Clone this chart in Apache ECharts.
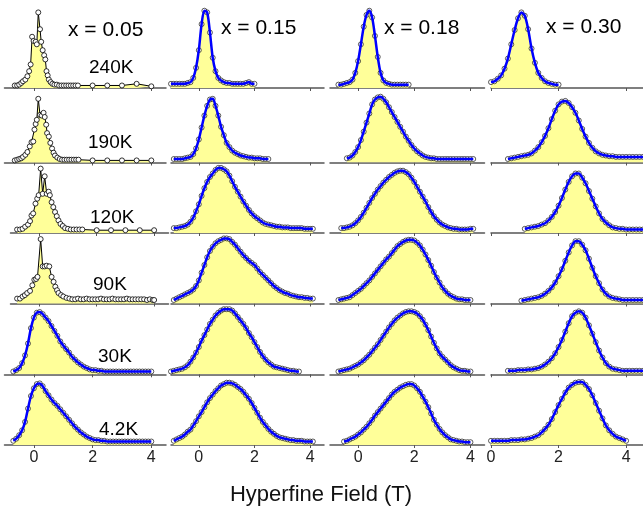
<!DOCTYPE html>
<html lang="en">
<head>
<meta charset="UTF-8">
<title>Hyperfine field distributions</title>
<script src="https://cdn.jsdelivr.net/npm/echarts@6/dist/echarts.min.js"></script>
<style>
    html, body { margin: 0; padding: 0; background: #fff; }
    #chart { width: 643px; height: 509px; }
</style>
</head>
<body>
<div id="chart"></div>
<script>
    var temps = ['240K', '190K', '120K', '90K', '30K', '4.2K'];
    var concs = ['x = 0.05', 'x = 0.15', 'x = 0.18', 'x = 0.30'];
    var fieldTicks = [0, 2, 4];

    // x = 0.05, 240K..90K: measured points only, [field (T), intensity]
    var raw05_240 = [[-0.65,0.03],[-0.57,0.03],[-0.5,0.04],[-0.43,0.06],[-0.37,0.08],[-0.29,0.1],[-0.22,0.14],[-0.16,0.2],[-0.11,0.28],[-0.06,0.61],[-0.01,0.56],[0.06,0.55],[0.1,0.52],[0.15,0.9],[0.21,0.7],[0.25,0.55],[0.3,0.45],[0.35,0.39],[0.39,0.34],[0.43,0.2],[0.47,0.15],[0.51,0.1],[0.57,0.07],[0.63,0.05],[0.7,0.04],[0.78,0.04],[0.86,0.03],[0.94,0.03],[1.02,0.03],[1.1,0.03],[1.18,0.03],[1.26,0.03],[1.34,0.03],[1.42,0.03],[1.5,0.03],[2.0,0.03],[2.5,0.03],[3.0,0.03],[3.5,0.05],[4.0,0.02]];
    var raw05_190 = [[-0.65,0.03],[-0.57,0.04],[-0.5,0.05],[-0.43,0.06],[-0.37,0.08],[-0.29,0.11],[-0.22,0.15],[-0.14,0.23],[-0.08,0.29],[-0.02,0.3],[0.02,0.47],[0.06,0.55],[0.1,0.61],[0.15,0.91],[0.21,0.68],[0.27,0.67],[0.33,0.71],[0.37,0.65],[0.42,0.54],[0.45,0.42],[0.51,0.37],[0.56,0.28],[0.62,0.2],[0.67,0.14],[0.72,0.1],[0.8,0.07],[0.88,0.05],[0.96,0.04],[1.04,0.04],[1.12,0.04],[1.2,0.04],[1.28,0.04],[1.36,0.04],[1.44,0.04],[1.52,0.04],[2.0,0.03],[2.5,0.03],[3.0,0.03],[3.5,0.03],[4.0,0.03]];
    var raw05_120 = [[-0.77,0.05],[-0.67,0.05],[-0.58,0.06],[-0.49,0.09],[-0.39,0.12],[-0.32,0.17],[-0.27,0.25],[-0.21,0.28],[-0.13,0.42],[-0.07,0.49],[-0.02,0.54],[0.05,0.92],[0.12,0.56],[0.19,0.81],[0.26,0.56],[0.33,0.59],[0.37,0.54],[0.43,0.44],[0.49,0.37],[0.55,0.3],[0.61,0.24],[0.67,0.18],[0.74,0.13],[0.82,0.1],[0.9,0.07],[1.0,0.06],[1.1,0.05],[1.2,0.05],[1.3,0.05],[1.4,0.05],[1.5,0.05],[2.0,0.04],[2.5,0.04],[3.0,0.04],[3.5,0.04],[4.0,0.04]];
    var raw05_90 = [[-0.77,0.07],[-0.67,0.07],[-0.58,0.1],[-0.5,0.12],[-0.42,0.15],[-0.32,0.18],[-0.24,0.26],[-0.17,0.34],[-0.11,0.35],[-0.06,0.38],[0.05,0.92],[0.12,0.53],[0.19,0.53],[0.26,0.54],[0.35,0.53],[0.43,0.38],[0.5,0.31],[0.56,0.24],[0.62,0.19],[0.67,0.15],[0.76,0.12],[0.84,0.1],[0.95,0.08],[1.05,0.07],[1.15,0.06],[1.25,0.06],[1.35,0.07],[1.45,0.06],[1.55,0.06],[1.65,0.07],[1.75,0.06],[1.85,0.06],[1.95,0.06],[2.05,0.06],[2.15,0.07],[2.25,0.06],[2.35,0.06],[2.45,0.06],[2.55,0.07],[2.65,0.06],[2.75,0.06],[2.85,0.06],[2.95,0.06],[3.05,0.07],[3.15,0.06],[3.25,0.06],[3.35,0.06],[3.45,0.06],[3.55,0.06],[3.65,0.06],[3.75,0.05],[3.85,0.06],[3.95,0.05],[4.0,0.05]];

    // fitted spectra, read on a 0.1 T grid starting at startXX[row]
    var fit05_30 = [.04,.06,.09,.16,.27,.44,.66,.81,.88,.89,.86,.81,.76,.69,.62,.55,.47,.41,.36,.31,.25,.21,.17,.14,.11,.09,.07,.06,.06,.05,.05,.04,.04,.04,.04,.04,.04,.04,.04,.04,.04,.04,.04,.04,.04,.04,.04,.04];
    var fit05_4 = [.06,.09,.14,.21,.33,.52,.7,.81,.87,.88,.84,.77,.71,.65,.6,.56,.51,.46,.41,.36,.31,.26,.22,.18,.15,.12,.1,.08,.07,.07,.06,.06,.05,.05,.05,.05,.05,.05,.05,.05,.05,.05,.05,.05,.05,.05,.05,.05];

    var fit15_240 = [.05,.05,.05,.05,.05,.05,.06,.07,.12,.24,.45,.76,.92,.9,.66,.36,.2,.12,.09,.07,.06,.06,.05,.05,.05,.05,.05,.06,.07,.05,.05];
    var fit15_190 = [.05,.05,.05,.05,.06,.07,.08,.12,.2,.33,.5,.67,.81,.9,.91,.81,.67,.51,.39,.28,.22,.17,.14,.12,.1,.09,.08,.07,.07,.06,.06,.06,.05,.05,.05];
    var fit15_120 = [.07,.07,.08,.09,.1,.12,.16,.22,.31,.41,.53,.64,.73,.8,.85,.9,.93,.93,.91,.88,.82,.74,.66,.59,.52,.45,.39,.33,.28,.24,.21,.18,.15,.13,.12,.11,.1,.09,.09,.08,.08,.08,.07,.07,.07,.07,.07,.06,.06,.06,.06];
    var fit15_90 = [.05,.07,.09,.11,.13,.15,.17,.2,.25,.33,.44,.55,.66,.75,.81,.86,.89,.91,.93,.93,.92,.88,.84,.79,.74,.69,.65,.61,.58,.55,.5,.45,.41,.37,.33,.29,.25,.22,.19,.17,.15,.14,.12,.11,.1,.09,.09,.08,.08,.07,.07];
    var fit15_30 = [.04,.05,.06,.07,.08,.1,.13,.18,.24,.31,.39,.48,.56,.64,.72,.78,.84,.88,.91,.93,.93,.93,.91,.87,.82,.77,.72,.66,.59,.53,.46,.39,.32,.26,.21,.17,.14,.11,.1,.09,.08,.07,.06,.05,.05,.04,.04];
    var fit15_4 = [.06,.08,.1,.12,.15,.19,.22,.28,.34,.41,.47,.54,.61,.67,.72,.77,.81,.85,.87,.89,.89,.88,.86,.83,.8,.76,.71,.66,.6,.53,.46,.39,.33,.28,.23,.19,.16,.13,.11,.1,.09,.08,.07,.07,.06,.06,.06,.05,.05,.05,.05];

    var fit18_240 = [.04,.04,.05,.06,.07,.1,.18,.32,.52,.73,.87,.92,.84,.62,.37,.18,.09,.06,.05,.04,.04,.04,.04,.04,.04,.04];
    var fit18_190 = [.06,.07,.1,.15,.22,.32,.44,.57,.7,.83,.9,.93,.94,.91,.86,.79,.72,.65,.58,.51,.44,.37,.31,.25,.2,.16,.13,.1,.08,.07,.06,.06,.05,.05,.05,.05,.05,.05,.05,.05,.05,.05,.05,.05,.05,.05];
    var fit18_120 = [.07,.07,.08,.09,.11,.14,.18,.23,.29,.36,.43,.5,.56,.62,.67,.72,.76,.8,.83,.86,.88,.89,.89,.87,.84,.79,.73,.66,.59,.52,.45,.37,.3,.24,.19,.15,.12,.1,.08,.07,.06,.06,.05,.05,.05,.05,.06,.06];
    var fit18_90 = [.05,.06,.07,.08,.09,.12,.15,.18,.21,.25,.29,.33,.38,.43,.48,.53,.58,.63,.67,.72,.77,.82,.85,.88,.9,.91,.91,.9,.87,.83,.77,.7,.62,.54,.45,.37,.3,.23,.18,.14,.11,.09,.07,.06,.06,.05,.05,.05];
    var fit18_30 = [.04,.05,.06,.07,.08,.1,.12,.14,.17,.2,.24,.28,.33,.38,.43,.49,.55,.61,.67,.72,.77,.81,.84,.87,.89,.9,.9,.89,.87,.83,.78,.71,.63,.54,.45,.37,.3,.25,.21,.17,.13,.1,.08,.06,.05,.05,.04,.04];
    var fit18_4 = [.05,.06,.08,.1,.12,.15,.18,.22,.26,.31,.36,.42,.47,.52,.57,.62,.67,.72,.76,.79,.82,.84,.86,.87,.87,.85,.81,.76,.69,.62,.54,.45,.36,.29,.23,.18,.14,.11,.08,.07,.06,.05,.05,.04,.04,.04];

    var fit30_240 = [.07,.08,.11,.15,.23,.35,.52,.69,.83,.9,.86,.7,.47,.3,.18,.12,.08,.06,.05,.04,.04];
    var fit30_190 = [.05,.06,.07,.08,.09,.1,.11,.13,.17,.22,.29,.38,.49,.62,.74,.83,.87,.88,.85,.79,.71,.6,.48,.37,.28,.21,.16,.13,.11,.1,.09,.09,.08,.08,.08,.08,.08,.08,.08,.08,.08];
    var fit30_120 = [.06,.07,.08,.09,.1,.12,.14,.18,.23,.3,.39,.5,.62,.73,.81,.85,.85,.79,.71,.6,.49,.38,.28,.2,.15,.11,.08,.07,.06,.06,.05,.05,.05,.05,.05,.05];
    var fit30_90 = [.04,.05,.06,.07,.08,.09,.11,.14,.18,.23,.3,.39,.49,.61,.73,.83,.89,.89,.84,.76,.64,.51,.39,.29,.2,.14,.1,.08,.07,.06,.05,.05,.05,.05,.05,.05,.05];
    var fit30_30 = [.05,.05,.05,.06,.06,.06,.07,.07,.08,.09,.11,.14,.18,.23,.3,.39,.49,.61,.73,.83,.88,.9,.88,.81,.7,.58,.46,.34,.24,.16,.11,.08,.07,.06,.05,.05,.05,.05,.05,.05,.05];
    var fit30_4 = [.06,.06,.06,.06,.06,.06,.07,.07,.07,.08,.08,.09,.1,.12,.14,.18,.23,.29,.37,.47,.57,.66,.75,.82,.86,.89,.9,.9,.86,.8,.71,.6,.49,.38,.28,.21,.16,.12,.1,.08,.06];

    // first field value (T) of each fitted row, 240K..4.2K
    var start05 = [null, null, null, null, -0.7, -0.7];
    var start15 = [-1.0, -0.9, -0.9, -0.9, -1.0, -0.9];
    var start18 = [-0.7, -0.4, -0.6, -0.7, -0.7, -0.5];
    var start30 = [0.0, 0.5, 1.0, 0.9, 0.5, 0.0];

    var raw05 = [raw05_240, raw05_190, raw05_120, raw05_90];
    var fits = [
        [null, null, null, null, fit05_30, fit05_4],
        [fit15_240, fit15_190, fit15_120, fit15_90, fit15_30, fit15_4],
        [fit18_240, fit18_190, fit18_120, fit18_90, fit18_30, fit18_4],
        [fit30_240, fit30_190, fit30_120, fit30_90, fit30_30, fit30_4]
    ];
    var starts = [start05, start15, start18, start30];

    // layout (pixels)
    var colLeft = [4.5, 171, 330, 491];
    var colWidth = [161.5, 153, 154.5, 153];
    var colMin = [-1, -1, -1, 0];
    var rowBase = [88, 162.5, 233, 303.5, 374.3, 445];
    var rowHeight = [84, 70, 70, 70, 70, 70];
    var concX = [68, 221, 384, 546];
    var concY = [30, 28, 28, 27];
    var tempX = [89, 88, 90, 93, 98, 99];
    var tempY = [68, 143, 218, 285, 357, 430];

    var yellow = '#ffff99';
    var font = '"Liberation Sans", Arial, sans-serif';

    var grids = [], xAxes = [], yAxes = [], series = [];

    for (var c = 0; c < 4; c++) {
        for (var r = 0; r < 6; r++) {
            var idx = grids.length;
            var left = colLeft[c], width = colWidth[c];
            if (c === 0 && (r === 2 || r === 3)) { left = 10.5; width = 158; }
            grids.push({ left: left, top: rowBase[r] - rowHeight[r], width: width, height: rowHeight[r] });
            xAxes.push({
                gridIndex: idx, type: 'value', min: colMin[c], max: 4.5,
                axisLine: { show: true, onZero: false, lineStyle: { color: '#555', width: 1.5 } },
                axisTick: { show: true, customValues: fieldTicks, length: 3, lineStyle: { color: '#555', width: 1 } },
                axisLabel: { show: r === 5, customValues: fieldTicks, fontSize: 16, color: '#222', margin: 5, fontFamily: font },
                splitLine: { show: false }
            });
            yAxes.push({ gridIndex: idx, type: 'value', min: 0, max: 1, show: false });

            if (c === 0 && r < 4) {
                series.push({
                    type: 'line', xAxisIndex: idx, yAxisIndex: idx, data: raw05[r],
                    symbol: 'circle', symbolSize: 5, showSymbol: true,
                    lineStyle: { color: '#000', width: 1 },
                    itemStyle: { color: '#fff', borderColor: '#000', borderWidth: 0.8 },
                    areaStyle: { color: yellow, opacity: 1 },
                    silent: true, z: 2
                });
                continue;
            }
            var ys = fits[c][r];
            var pts = ys.map(function (v, i) {
                return [Math.round((starts[c][r] + i * 0.1) * 100) / 100, v];
            });
            series.push({
                type: 'line', xAxisIndex: idx, yAxisIndex: idx, data: pts, smooth: 0.3,
                symbol: 'none', lineStyle: { width: 0 },
                areaStyle: { color: yellow, opacity: 1 }, silent: true, z: 2
            });
            series.push({
                type: 'scatter', xAxisIndex: idx, yAxisIndex: idx, data: pts,
                symbol: 'circle', symbolSize: 5,
                itemStyle: { color: '#fff', borderColor: '#000', borderWidth: 0.8 },
                silent: true, z: 3
            });
            series.push({
                type: 'line', xAxisIndex: idx, yAxisIndex: idx, data: pts, smooth: 0.3,
                symbol: 'none', lineStyle: { color: '#0000ff', width: 2.5 },
                silent: true, z: 4
            });
        }
    }

    var texts = [];
    concs.forEach(function (t, i) {
        texts.push({ type: 'text', x: concX[i], y: concY[i], z: 10,
            style: { text: t, font: '21px ' + font, fill: '#000', textVerticalAlign: 'middle' } });
    });
    temps.forEach(function (t, i) {
        texts.push({ type: 'text', x: tempX[i], y: tempY[i], z: 10,
            style: { text: t, font: '19px ' + font, fill: '#000', textVerticalAlign: 'middle' } });
    });
    texts.push({ type: 'text', x: 321, y: 495, z: 10,
        style: { text: 'Hyperfine Field (T)', font: '22px ' + font, fill: '#111', textAlign: 'center', textVerticalAlign: 'middle' } });

    var myChart = echarts.init(document.getElementById('chart'));
    myChart.setOption({
        animation: false,
        grid: grids,
        xAxis: xAxes,
        yAxis: yAxes,
        series: series,
        graphic: texts
    });
</script>
</body>
</html>
